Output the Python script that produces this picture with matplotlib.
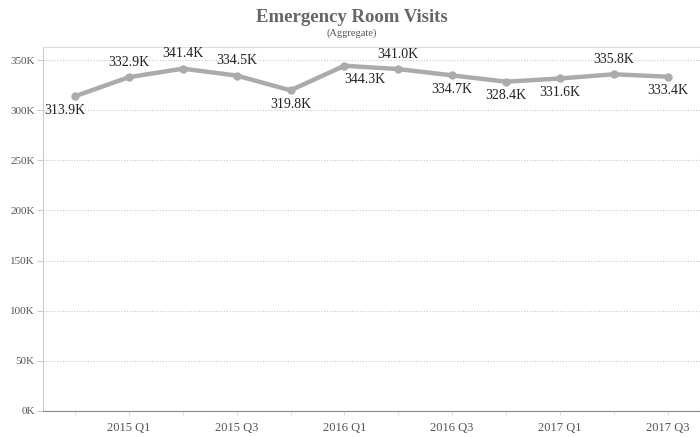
import matplotlib
matplotlib.use("Agg")
import matplotlib.pyplot as plt
from matplotlib.ticker import FixedLocator, FuncFormatter

quarters = ["2014 Q4", "2015 Q1", "2015 Q2", "2015 Q3", "2015 Q4", "2016 Q1",
            "2016 Q2", "2016 Q3", "2016 Q4", "2017 Q1", "2017 Q2", "2017 Q3"]
visits_k = [313.9, 332.9, 341.4, 334.5, 319.8, 344.3,
            341.0, 334.7, 328.4, 331.6, 335.8, 333.4]
label_above = [False, True, True, True, False, False,
               True, False, False, False, True, False]
y_ticks_k = [0, 50, 100, 150, 200, 250, 300, 350]

plt.rcParams["font.family"] = ["Liberation Serif", "DejaVu Serif"]

fig = plt.figure(figsize=(7.0, 4.37), dpi=100)
ax = fig.add_axes([43 / 700, 26 / 437, 657 / 700, 364 / 437])

x = list(range(len(quarters)))
line_color = "#ababab"
ax.plot(x, visits_k, color=line_color, linewidth=3.2, solid_capstyle="round",
        marker="o", markersize=5, zorder=3)

# value labels, alternating above / below the line
# (a couple are nudged sideways, like the original does to dodge the line)
nudge = {0: -10, 5: 20}
for xi, v, up in zip(x, visits_k, label_above):
    ax.annotate(f"{v:.1f}K", (xi, v), xytext=(nudge.get(xi, 0), 15 if up else -14),
                textcoords="offset pixels",
                ha="center", va="center", fontsize=10, color="#222222")

ax.set_xlim(-0.594, 11.6)
ax.set_ylim(0, 363)

ax.xaxis.set_major_locator(FixedLocator(x[1::2]))
ax.xaxis.set_minor_locator(FixedLocator(x[0::2]))
ax.set_xticklabels(quarters[1::2])
ax.tick_params(axis="x", which="both", length=3, color="#dddddd",
               labelsize=9, labelcolor="#555555", pad=5)

ax.set_yticks(y_ticks_k)
ax.yaxis.set_major_formatter(FuncFormatter(lambda v, p: f"{v:.0f}K"))
ax.tick_params(axis="y", length=4, color="#cccccc", labelsize=8,
               labelcolor="#555555", pad=2)

ax.grid(axis="y", linestyle=(0, (1, 1.5)), color="#c8c8c8", linewidth=0.8)
ax.set_axisbelow(True)

ax.spines["right"].set_visible(False)
ax.spines["top"].set_color("#dddddd")
ax.spines["left"].set_color("#cccccc")
ax.spines["bottom"].set_color("#888888")

fig.text(0.502, 0.961, "Emergency Room Visits", ha="center", va="center",
         fontsize=13.5, fontweight="bold", color="#666666")
fig.text(0.502, 0.924, "(Aggregate)", ha="center", va="center",
         fontsize=7.5, color="#555555")

fig.savefig("out.png", dpi=100)
